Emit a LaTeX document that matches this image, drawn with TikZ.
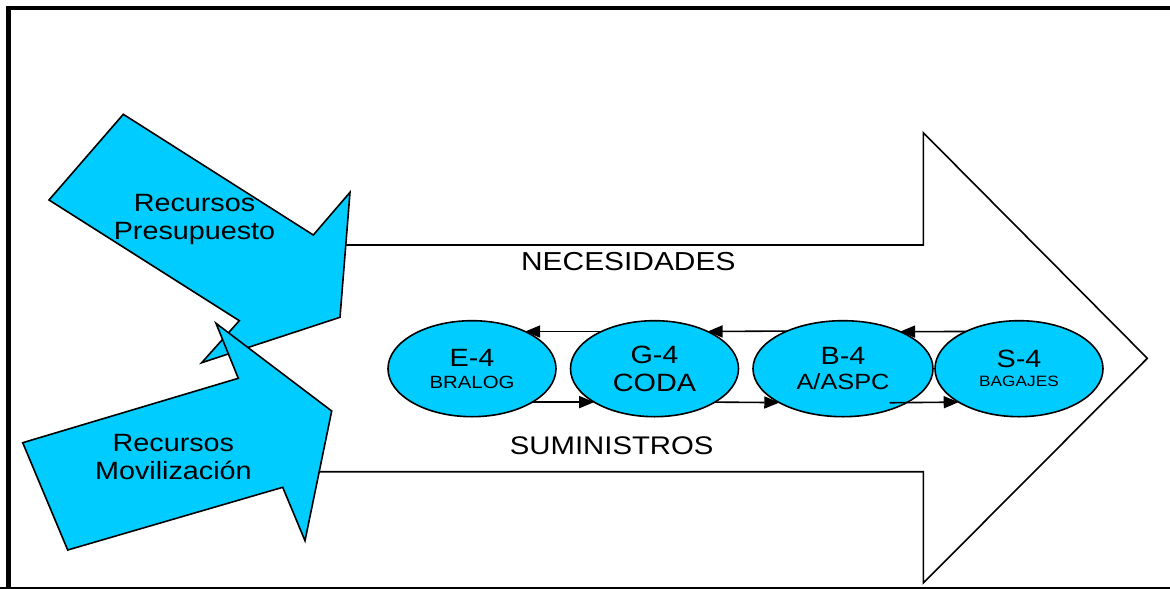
\documentclass[tikz,border=0pt]{standalone}
\usepackage{fontspec}
\setmainfont{Liberation Sans}[FakeStretch=1.15]
\usetikzlibrary{arrows.meta,shapes.geometric}
\definecolor{cyanfill}{RGB}{0,204,255}

\begin{document}
\begin{tikzpicture}[x=1pt, y=-1pt, line width=1.6pt,
 unit/.style={ellipse, draw, fill=cyanfill, minimum width=168pt, minimum height=96pt,
  inner sep=0pt, outer sep=0pt, align=center},
 flow/.style={-{Triangle[length=15pt,width=12pt]}},
 big/.style={font=\fontsize{25}{28.3}\selectfont, align=center, inner sep=0pt},
 label/.style={font=\fontsize{26}{30}\selectfont, anchor=base, inner sep=0pt}]
 \useasboundingbox (0,0) rectangle (1170,589);

 % frame
 \draw[line width=4.5pt] (8.3,589) -- (8.3,8) -- (1170,8);
 \draw[line width=1.2pt] (0,588) -- (1170,588);

 % big arrow
 \draw (325,245) -- (923.3,245) -- (923.3,132.7) -- (1147.3,358.3)
  -- (923.3,583) -- (923.3,471.7) -- (310,471.7);

 \draw node[unit, font=\fontsize{25}{21.7}\selectfont] (E) at (472,368.7)
  {E-4\\{\fontsize{17.7}{21.7}\selectfont BRALOG}};
 \draw node[unit, font=\fontsize{25}{28.3}\selectfont] (G) at (654.5,368.7)
  {G-4\\CODA};
 \draw node[unit, minimum width=180pt, font=\fontsize{25}{25}\selectfont] (B) at (843,368.7)
  {B-4\\{\fontsize{22}{25}\selectfont A/ASPC}};
 \draw node[unit, font=\fontsize{25}{19}\selectfont] (S) at (1019,368.7)
  {S-4\\{\fontsize{15}{19}\selectfont BAGAJES}};

 \draw[flow] (G.145) -- (E.35);
 \draw[flow] (B.146.8) -- (G.35);
 \draw[flow] (S.145) -- (B.33.2);

 \draw[flow] (E.-29.8) -- (G.209.8);
 \draw[flow] (G.-29.8) -- (B.208.2);
 \draw[flow, shorten <=-17pt] (B.-28.2) -- (S.209.8);

 % incoming resources
 \draw[fill=cyanfill] (123.3,114.3) -- (313.3,235) -- (350,192.3) -- (340,317.3)
  -- (201.7,362.7) -- (239.3,320.7) -- (49,200) -- cycle;
 \draw[fill=cyanfill] (22.7,442.7) -- (238.3,378.3) -- (216,323.3) -- (331.7,411)
  -- (305,540.7) -- (282.7,487.3) -- (67.7,550) -- cycle;

 \draw node[big] (presupuesto) at (194.5,219.5) {Recursos\\Presupuesto};
 \draw node[big] (movilizacion) at (173.4,456.9) {Recursos\\Movilización};

 \draw node[label] (necesidades) at (628.3,270.7) {NECESIDADES};
 \draw node[label, font=\fontsize{25.5}{30}\selectfont] (suministros) at (611.7,454.3) {SUMINISTROS};
\end{tikzpicture}
\end{document}
